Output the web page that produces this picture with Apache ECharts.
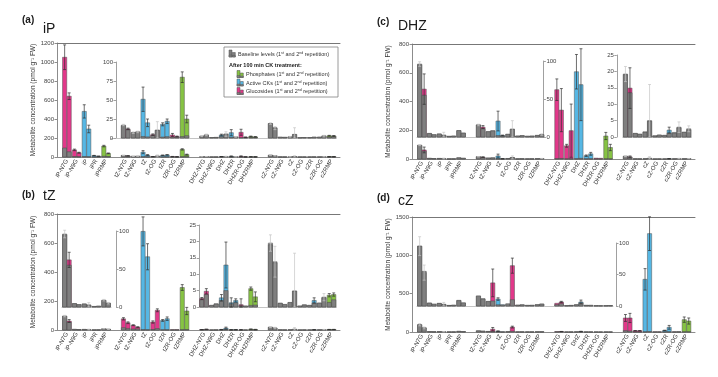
<!DOCTYPE html>
<html><head><meta charset="utf-8">
<script src="https://cdn.jsdelivr.net/npm/echarts@6/dist/echarts.min.js"></script>
<style>html,body{margin:0;padding:0;background:#fff}#chart{width:718px;height:377px}</style>
</head><body><div id="chart"></div>
<script>
// ---------- DATA ----------
const categories = ['iP-N7G','iP-N9G','iP','iPR','iPRMP','',
  'tZ-N7G','tZ-N9G','tZ','tZ-OG','tZR','tZR-OG','tZRMP','',
  'DHZ-N7G','DHZ-N9G','DHZ','DHZR','DHZR-OG','DHZRMP','',
  'cZ-N7G','cZ-N9G','cZ','cZ-OG','cZR','cZR-OG','cZRMP'];
// G = glucosides, A = active CKs, P = phosphates
const classes = ['G','G','A','A','P','', 'G','G','A','G','A','G','P','', 'G','G','A','A','G','P','', 'G','G','A','G','A','G','P'];

const baseRep1 = [95,4.5,4,0.8,8.5,null, 16,7,2,3.5,1.3,1,2,null, 2.2,0.5,2,1,0.4,0.5,null, 19,1.1,1.4,0.3,0.5,1.2,1.4];
const baseRep2 = [55,3,2.5,1.2,5,null, 11,8,1.5,10,1.8,1.2,3,null, 3.8,0.9,5,1.3,0.3,0.6,null, 13.5,0.8,4.8,0.6,1.2,2.8,2.2];

const iPTreat1 = [1050,75,480,15,115,null, 17,7,51,4.4,18,4,80,null, 2.5,0.6,4,7,7.5,2,null, 19,1,1.6,0.5,0.5,1,3];
const iPTreat2 = [640,45,295,8,38,null, 12,8,20,10.5,22,2,25,null, 4.1,0.6,5.2,1.5,1,1.5,null, 13,1,4.5,0.5,1,2.5,2.7];
const iPErr1 = [130,8,70,2,8,null, 1,1,16,1,2,2,7,null, 0.5,0,1,4,4,0.5,null, 1,0,0.5,0,0,0,0.5];
const iPErr2 = [35,5,40,1,4,null, 1,1,5,11,3,0.5,5,null, 1,0,3,0.5,0.3,0.3,null, 2,0,9,0,0,1,0.5];

const tZTreat1 = [96,4.5,4,0.5,9,null, 77,33,680,55,66,2,293,null, 2.6,0.5,2.8,1.3,0.7,5.6,null, 19.5,1.2,1.3,0.3,0.5,1.2,3.6];
const tZTreat2 = [62,3.2,2.7,1,5,null, 50,20,505,136,78,2,131,null, 4.8,1,12.8,2,0.3,3.1,null, 13.8,0.7,4.9,0.7,2,3,3.8];
const tZErr1 = [5,0,0,0,1,null, 8,3,100,8,6,0,20,null, 0.3,0,1,1.5,1.8,0.5,null, 2.5,0,0,0,0,0,0.5];
const tZErr2 = [10,0,3,0,1,null, 6,2,90,10,12,0,25,null, 0.8,0,7,0.5,0,1.5,null, 4.7,0,11.5,0,0.8,1.1,0.5];

const dhzTreat1 = [96,4.8,4,1,8.3,null, 15.8,7,21,3.6,1.3,1,2.2,null, 482,92,607,23,6,160,null, 19.2,1.1,1.6,0.4,0.5,1.4,1.5];
const dhzTreat2 = [63,3,2.2,1.3,5.3,null, 13,8.3,2,10.5,1.8,1.3,3.2,null, 340,197,517,36,5,80,null, 14.9,0.9,5,0.6,2.1,3,2.5];
const dhzErr1 = [3,0,0,0,0,null, 1,0,13,0,0,0,0,null, 75,10,120,5,0,25,null, 2.3,0,0,0,0,0,0];
const dhzErr2 = [20,0,4,0,0,null, 2,0,0.5,11,0,0,1,null, 150,185,250,10,0,22,null, 6.2,0,11,0,0.9,1.6,0.9];

const cZTreat1 = [95,4.8,4.3,1,9,null, 15.4,7.4,11,2.7,1.4,1,2.2,null, 4.3,0.6,2.1,1.1,0.5,0.5,null, 183,17,687,2,20,2,161];
const cZTreat2 = [53,2.7,2.7,1.3,4.8,null, 11.7,36.7,2,64,2,1,3.2,null, 6.4,1,6.4,0.5,0.5,0.7,null, 183,17,1283,2,61,2,143];
const cZErr1 = [15,0,0,0,0,null, 0,0,2,0,0,0,0,null, 0,0,0,0,0,0,null, 45,2,140,0,3,0,35];
const cZErr2 = [12,0,3,0,0,null, 0,22,0,12,0,0,0,null, 1,0,3,0,0,0,null, 60,2,220,0,25,0,40];

const iPMainTicks = [0,200,400,600,800,1000,1200];
const iPInsetTicks = [0,25,50,75,100];
const tZMainTicks = [0,200,400,600,800];
const tZInsetLeftTicks = [0,50,100];
const tZInsetRightTicks = [0,5,10,15,20,25];
const dhzMainTicks = [0,200,400,600,800];
const dhzInsetLeftTicks = [0,50,100];
const dhzInsetRightTicks = [0,5,10,15,20,25];
const cZMainTicks = [0,500,1000,1500];
const cZInsetTicks = [0,50,100];

const panelLetters = ['(a)','(b)','(c)','(d)'];
const panelNames = ['iP','tZ','DHZ','cZ'];
const yAxisTitle = 'Metabolite concentration (pmol g\u207B\u00B9 FW)';
const legendTexts = ['Baseline levels','After 100 min CK treatment:','Phosphates','Active CKs','Glucosides'];

// ---------- STYLE / LAYOUT ----------
const FONT = 'Liberation Sans, Arial, sans-serif';
const COLORS = {G:'#e2388a', A:'#56b7e4', P:'#86c343'};
const GRAY_T = '#ababab', GRAY_B = '#7f7f7f';
const SLOT = 9.8, BAR_X0 = 62, FRAME_X0 = 57, FRAME_W = 283;

const panels = [
  {dx:0, top:43, bottom:157, ticks:iPMainTicks, t1:iPTreat1, t2:iPTreat2, e1:iPErr1, e2:iPErr2,
   insets:[{from:5,to:27,top:62,bottom:138,ticks:iPInsetTicks,side:'left',offset:-5}]},
  {dx:0, top:214, bottom:330, ticks:tZMainTicks, t1:tZTreat1, t2:tZTreat2, e1:tZErr1, e2:tZErr2,
   insets:[{from:0,to:4,top:231,bottom:307,ticks:tZInsetLeftTicks,side:'right',offset:5},
           {from:14,to:27,top:225,bottom:307,ticks:tZInsetRightTicks,side:'left',offset:0}]},
  {dx:355, top:44, bottom:159, ticks:dhzMainTicks, t1:dhzTreat1, t2:dhzTreat2, e1:dhzErr1, e2:dhzErr2,
   insets:[{from:0,to:12,top:61,bottom:137,ticks:dhzInsetLeftTicks,side:'right',offset:-1},
           {from:21,to:27,top:55,bottom:137,ticks:dhzInsetRightTicks,side:'left',offset:6}]},
  {dx:355, top:217, bottom:332, ticks:cZMainTicks, t1:cZTreat1, t2:cZTreat2, e1:cZErr1, e2:cZErr2,
   insets:[{from:0,to:19,top:243,bottom:306,ticks:cZInsetTicks,side:'right',offset:3}]}
];
const titlePos = [
  {lx:22,ly:21,nx:43,ny:30},{lx:22,ly:196,nx:43,ny:197},
  {lx:377,ly:23,nx:398,ny:27},{lx:377,ly:199,nx:398,ny:202}
];

const grids=[], xAxis=[], yAxis=[], series=[];
function axisFromTicks(t){ return {min:t[0], max:t[t.length-1], interval:t[1]-t[0]}; }
const plainNum = v => String(v);

function makeRender(p){
  return function(params, api){
    const xi = api.value(0), s = api.value(2);
    const bw = api.size([1,0])[0];
    const base = api.coord([xi,0]);
    const w = bw*0.43, g = bw*0.03;
    const xs = [base[0]-g/2-w, base[0]+g/2];
    const T=[p.t1[s],p.t2[s]], B=[baseRep1[s],baseRep2[s]], E=[p.e1[s]||0,p.e2[s]||0];
    const ch=[];
    for(let r=0;r<2;r++){
      const t=T[r], b=B[r], e=E[r];
      const colored = t > 1.05*b + 0.2;
      const yt = api.coord([xi,t])[1];
      ch.push({type:'rect', shape:{x:xs[r], y:yt, width:w, height:base[1]-yt},
        style:{fill: colored ? COLORS[classes[s]] : GRAY_T, stroke:'#505050', lineWidth:0.5}});
      const yb = api.coord([xi,b])[1];
      ch.push({type:'rect', shape:{x:xs[r], y:yb, width:w, height:base[1]-yb},
        style:{fill:GRAY_B, stroke:'#4a4a4a', lineWidth:0.5}});
      if(e>0){
        const yh = api.coord([xi,t+e])[1], yl = api.coord([xi,Math.max(0,t-e)])[1];
        const cx = xs[r]+w/2, cw = w*0.35;
        const col = colored ? '#2f2f2f' : '#c6c6c6';
        ch.push({type:'line', shape:{x1:cx,y1:yh,x2:cx,y2:yl}, style:{stroke:col, lineWidth:0.7}});
        ch.push({type:'line', shape:{x1:cx-cw,y1:yh,x2:cx+cw,y2:yh}, style:{stroke:col, lineWidth:0.7}});
        ch.push({type:'line', shape:{x1:cx-cw,y1:yl,x2:cx+cw,y2:yl}, style:{stroke:col, lineWidth:0.7}});
      }
    }
    return {type:'group', children:ch};
  };
}

function addBars(xi, yi, from, to, p){
  const data=[];
  for(let s=from;s<=to;s++){
    if(classes[s]==='') continue;
    data.push([s-from, Math.max(p.t1[s],p.t2[s]), s]);
  }
  series.push({type:'custom', xAxisIndex:xi, yAxisIndex:yi, data, encode:{x:0,y:1},
    renderItem:makeRender(p), silent:true, clip:false, animation:false});
}

const slotIds = categories.map((_,i)=>String(i));

panels.forEach(p=>{
  const h = p.bottom-p.top;
  const main = axisFromTicks(p.ticks);
  let gi = grids.length;
  grids.push({left:FRAME_X0+p.dx, top:p.top, width:FRAME_W, height:h, outerBoundsMode:'none'});
  xAxis.push({gridIndex:gi, type:'value', min:0, max:1, position:'bottom',
    axisLine:{show:true, lineStyle:{color:'#8c8c8c', width:1}}, axisTick:{show:false}, axisLabel:{show:false}, splitLine:{show:false}});
  xAxis.push({gridIndex:gi, type:'value', min:0, max:1, position:'top',
    axisLine:{show:true, lineStyle:{color:'#777', width:1}}, axisTick:{show:false}, axisLabel:{show:false}, splitLine:{show:false}});
  yAxis.push({gridIndex:gi, type:'value', min:main.min, max:main.max, interval:main.interval,
    axisLine:{show:true, lineStyle:{color:'#8c8c8c'}}, axisTick:{show:true, length:2.5, lineStyle:{color:'#8c8c8c'}},
    axisLabel:{fontSize:6, color:'#444', margin:3, fontFamily:FONT, formatter:plainNum}, splitLine:{show:false},
    name:yAxisTitle, nameLocation:'middle', nameGap:20, nameTextStyle:{fontSize:6.5, color:'#333', fontFamily:FONT}});
  gi = grids.length;
  grids.push({left:BAR_X0+p.dx, top:p.top, width:SLOT*categories.length, height:h, outerBoundsMode:'none'});
  const bx = xAxis.length;
  xAxis.push({gridIndex:gi, type:'category', data:slotIds, axisLine:{show:false}, axisTick:{show:false},
    axisLabel:{interval:0, rotate:60, fontSize:6, color:'#333', margin:3, fontFamily:FONT, formatter:v=>categories[+v]},
    splitLine:{show:false}});
  const by = yAxis.length;
  yAxis.push({gridIndex:gi, type:'value', min:main.min, max:main.max, show:false, splitLine:{show:false}});
  addBars(bx, by, 0, categories.length-1, p);
  p.insets.forEach(ins=>{
    const ia = axisFromTicks(ins.ticks);
    const g2 = grids.length;
    grids.push({left:BAR_X0+p.dx+ins.from*SLOT, top:ins.top, width:(ins.to-ins.from+1)*SLOT, height:ins.bottom-ins.top, outerBoundsMode:'none'});
    const ix = xAxis.length;
    xAxis.push({gridIndex:g2, type:'category', data:slotIds.slice(ins.from, ins.to+1),
      axisLine:{show:true, lineStyle:{color:'#c4c4c4', width:1}}, axisTick:{show:false}, axisLabel:{show:false}, splitLine:{show:false}});
    const iy = yAxis.length;
    yAxis.push({gridIndex:g2, type:'value', min:ia.min, max:ia.max, interval:ia.interval, position:ins.side, offset:ins.offset,
      axisLine:{show:true, lineStyle:{color:'#a0a0a0'}}, axisTick:{show:true, length:2.5, lineStyle:{color:'#a0a0a0'}},
      axisLabel:{fontSize:6, color:'#444', margin:3, fontFamily:FONT, formatter:plainNum}, splitLine:{show:false}});
    addBars(ix, iy, ins.from, ins.to, p);
  });
});

// ---------- GRAPHIC: titles + legend ----------
const graphic=[];
titlePos.forEach((t,i)=>{
  graphic.push({type:'text', left:t.lx, top:t.ly-6, style:{text:panelLetters[i], font:'bold 10px '+FONT, fill:'#1a1a1a'}});
  graphic.push({type:'text', left:t.nx, top:t.ny-8, style:{text:panelNames[i], font:'14px '+FONT, fill:'#1a1a1a'}});
});
const sup = s => '{s|'+s+'}';
const repTxt = name => '{n|'+name+' (1}'+sup('st')+'{n| and 2}'+sup('nd')+'{n| repetition)}';
const rich = {n:{fontSize:5.5, fontFamily:FONT, fill:'#333', lineHeight:7}, s:{fontSize:3.6, fontFamily:FONT, fill:'#333', verticalAlign:'top', lineHeight:7}};
function icon(x,y,col){
  return [
    {type:'rect', shape:{x:x, y:y, width:3, height:7}, style:{fill:col, stroke:'#505050', lineWidth:0.5}},
    {type:'rect', shape:{x:x, y:y+5, width:3, height:2}, style:{fill:GRAY_B, stroke:'#505050', lineWidth:0.4}},
    {type:'rect', shape:{x:x+3.3, y:y+2.5, width:3, height:4.5}, style:{fill:col, stroke:'#505050', lineWidth:0.5}},
    {type:'rect', shape:{x:x+3.3, y:y+5.5, width:3, height:1.5}, style:{fill:GRAY_B, stroke:'#505050', lineWidth:0.4}}
  ];
}
const lg = [
  {type:'rect', shape:{x:224, y:47, width:114, height:50}, style:{fill:'#fff', stroke:'#808080', lineWidth:0.8}},
  ...icon(229,50,GRAY_B),
  {type:'text', x:238, y:54, style:{text:repTxt(legendTexts[0]), rich, verticalAlign:'middle'}},
  {type:'text', x:229, y:65, style:{text:legendTexts[1], font:'bold 5.5px '+FONT, fill:'#222', verticalAlign:'middle'}},
  ...icon(237,70.5,COLORS.P),
  {type:'text', x:246, y:74.5, style:{text:repTxt(legendTexts[2]), rich, verticalAlign:'middle'}},
  ...icon(237,79,COLORS.A),
  {type:'text', x:246, y:83, style:{text:repTxt(legendTexts[3]), rich, verticalAlign:'middle'}},
  ...icon(237,87.5,COLORS.G),
  {type:'text', x:246, y:91.5, style:{text:repTxt(legendTexts[4]), rich, verticalAlign:'middle'}}
];
graphic.push({type:'group', children:lg, z:100});

const chart = echarts.init(document.getElementById('chart'));
chart.setOption({
  animation:false, backgroundColor:'#fff',
  textStyle:{fontFamily:FONT},
  grid:grids, xAxis, yAxis, series, graphic
});
</script></body></html>
